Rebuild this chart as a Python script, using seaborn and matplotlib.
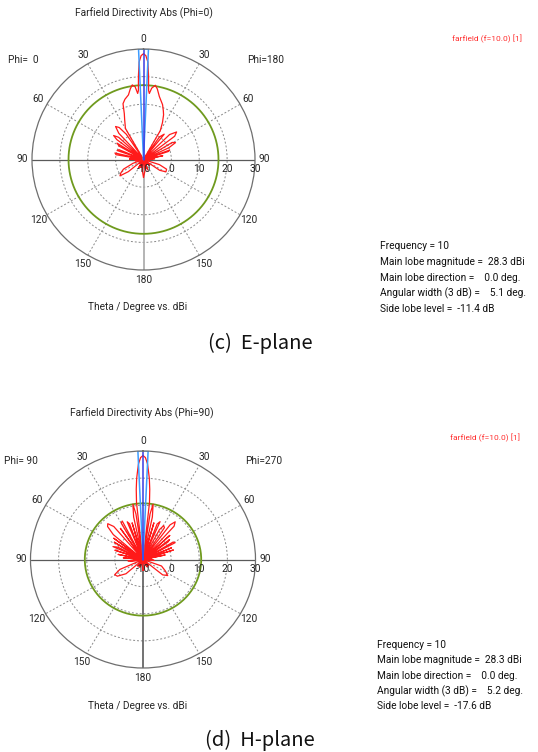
import numpy as np
import pandas as pd
import matplotlib
matplotlib.use("Agg")
import matplotlib.pyplot as plt
import seaborn as sns

# E-plane cut, theta in degrees (negative = Phi=0 side, positive = Phi=180 side)
e_theta = [-180, -174, -168, -162, -156, -150, -144, -138, -133, -129, -125, -121, -116, -110,
           -105, -98, -93, -88, -84, -80, -77, -74, -71, -68, -65, -61, -58, -55, -53, -51, -48,
           -46, -43, -40, -37, -34, -32, -30, -28, -25, -22.5, -20, -17, -13, -10.5, -8.5, -6.5,
           -5, -4.2, -3.4, -2.55, -1.3, 0, 1.3, 2.55, 3.4, 4.2, 5, 6.5, 9, 11, 14, 19, 22, 24,
           27, 30, 32, 35, 39, 42, 46, 50, 53, 56, 59, 62, 65, 67, 70, 72, 75, 79, 82, 86, 90,
           100, 104, 108, 113, 119, 124, 128, 134, 140, 146, 152, 158, 166, 172, 180]
e_gain = [-3.5, -6, -10, -7, -10, -6.5, -10, -8, -10, -3, 0.3, -0.5, -2, -6,
          -10, -7, -10, -5, -10, 0, 0.5, -10, 0, -0.5, -10, 0, 1.2, -10, 2, 3.8, 2,
          -10, 3, 5.6, 4.5, 1, -10, 3, 4, 6, 8, 11.5, 12.8, 14, 16, 17.3, 16.5,
          14, 15, 20.5, 25.3, 27.6, 28.3, 27.6, 25.3, 20.5, 15, 14, 16, 17.2, 16, 13.5, 11, 9, 7.7,
          5, 2, -10, 0, 1.8, -10, 3, 5.5, 4, -10, 2, 3, 0, -10, 0, -0.7, -10, -3, -10, -6, -10,
          -8, -10, -4, -1, -0.8, -3, -10, -7, -10, -8, -10, -6, -10, -6, -3.5]

# H-plane cut (negative = Phi=90 side, positive = Phi=270 side)
h_theta = [-180, -172, -165, -158, -150, -143, -137, -131, -124, -119, -114, -108, -100, -95,
           -91, -85, -82, -78, -75, -71, -68, -66, -63, -61, -58, -55, -53, -51, -49, -46,
           -43.5, -40.5, -38, -35, -33, -30, -27.5, -25, -22, -20, -18.5, -16, -14, -12, -10,
           -8.5, -7.5, -6.3, -5.3, -4.3, -3.3, -2.6, -1.3, 0, 1.3, 2.6, 3.3, 4.3, 5.3, 6.3, 7.5,
           8.5, 10, 12, 14, 16, 18.5, 21, 23.5, 26, 28, 30.5, 33, 35, 37, 39.5, 42, 44, 47, 49,
           52, 54, 56, 59, 61.5, 64, 67, 69, 72, 74, 78, 81, 88, 95, 100, 110, 118, 124, 129,
           133, 140, 146, 152, 160, 168, 175, 180]
h_gain = [-6, -8, -10, -7, -10, -7, -10, -2, 1, 1.5, -1, -10, -6, -4.6,
          -10, -3, -10, -1, -10, 0.5, -10, 1.7, 0, -10, 2, -10, 3, -10, 4, 7.5,
          8.2, 6, -10, 4, -10, 5.5, 6, -10, 5, 4, -10, 4, -10, 6, 10.7,
          7, -10, 11, 16, 20, 23, 25.3, 27.6, 28.3, 27.6, 25.3, 23, 20, 16, 11, -10,
          7, 10.7, 6, -10, 4, -10, 4, 5.2, -10, 2.5, 4.5, 4, -10, 6, 8, 6.5, -10, 3, -10,
          2, 1, -10, 2.5, 3, -10, 1, -10, 1.3, -10, -2, -10, -7, -6, -10, -3, -1, 0.6, -1,
          -10, -7, -10, -7, -10, -8, -6, -6]

freq = 10
main_mag = 28.3
main_dir = 0.0
e_width, h_width = 5.1, 5.2
e_sll, h_sll = -11.4, -17.6

r_ticks = [-10, 0, 10, 20, 30]
theta_ticks = [0, 30, 60, 90, 120, 150, 180, 210, 240, 270, 300, 330]
theta_labels = ['0', '30', '60', '90', '120', '150', '180', '150', '120', '90', '60', '30']

sns.set_theme(style='white')
plt.rcParams['font.family'] = ['Roboto', 'DejaVu Sans']

W, H = 538, 752
fig = plt.figure(figsize=(W / 100, H / 100), dpi=100)


def px(x, y):
    return x / W, 1 - y / H


def draw_cut(box, theta, gain, width, sll, vcolor):
    l, t, r, b = box
    ax = fig.add_axes([l / W, 1 - b / H, (r - l) / W, (b - t) / H], projection='polar')
    ax.set_aspect('auto')
    ax.set_theta_zero_location('N')
    ax.set_theta_direction(-1)
    ax.set_facecolor('white')
    ax.set_ylim(-10, 30)
    ax.set_yticks([0, 10, 20])
    ax.set_yticklabels([])
    ax.yaxis.grid(True, linestyle=(0, (2, 2)), color='#8a8a8a', lw=0.7)
    ax.xaxis.grid(False)
    ax.set_xticks(np.deg2rad(theta_ticks))
    ax.set_xticklabels(theta_labels, fontsize=7.3)
    ax.tick_params(axis='x', length=0, pad=0)
    ax.spines['polar'].set_color('#6e6e6e')
    ax.spines['polar'].set_linewidth(0.9)

    for a in theta_ticks:
        if a in (0, 180):
            continue
        if a in (90, 270):
            ax.plot([np.deg2rad(a)] * 2, [-10, 30], color='#5a5a5a', lw=0.9)
        else:
            ax.plot([np.deg2rad(a)] * 2, [-10, 30], color='#8a8a8a', lw=0.7,
                    linestyle=(0, (2, 2)))
    ax.plot([np.pi, np.pi], [-10, 30], color=vcolor, lw=1.2)

    for v in r_ticks:
        ax.annotate(str(v), xy=(np.pi / 2, v), xytext=(0, -6.5), textcoords='offset points',
                    ha='center', va='center', fontsize=7.3, color='#222222',
                    annotation_clip=False)

    ring = np.linspace(0, 2 * np.pi, 361)
    ax.plot(ring, np.full_like(ring, main_mag + sll), color='#6f9a1e', lw=1.3)

    df = pd.DataFrame({'theta': np.deg2rad(theta), 'gain': gain})
    sns.lineplot(data=df, x='theta', y='gain', sort=False, estimator=None,
                 color='#ff1a1a', lw=0.9, ax=ax)
    ax.set_xlabel('')
    ax.set_ylabel('')

    half = np.deg2rad(width / 2)
    lb = '#3d9cff'
    ax.plot([-half, -half], [-10, 30], color=lb, lw=1.1)
    ax.plot([half, half], [-10, 30], color=lb, lw=1.1)
    arc = np.linspace(-half, half, 10)
    ax.plot(arc, np.full_like(arc, 30), color=lb, lw=1.1)
    ax.plot([np.deg2rad(main_dir)] * 2, [-10, 30], color='#3a3ae0', lw=1.1)
    return ax


def info(x, y0, dy, width, sll):
    lines = [f'Frequency = {freq}',
             f'Main lobe magnitude =  {main_mag:.1f} dBi',
             f'Main lobe direction =    {main_dir:.1f} deg.',
             f'Angular width (3 dB) =    {width:.1f} deg.',
             f'Side lobe level =  {sll:.1f} dB']
    for i, s in enumerate(lines):
        fig.text(*px(x, y0 + i * dy), s, fontsize=7.3, ha='left', va='center', color='#111111')


# (c) E-plane
draw_cut((32, 49, 255, 270), e_theta, e_gain, e_width, e_sll, '#a8a8a8')
fig.text(*px(143.5, 13), 'Farfield Directivity Abs (Phi=0)', fontsize=7.4, ha='center', va='center')
fig.text(*px(8, 60), 'Phi=  0', fontsize=7.3, ha='left', va='center')
fig.text(*px(284, 60), 'Phi=180', fontsize=7.3, ha='right', va='center')
fig.text(*px(522, 39), 'farfield (f=10.0) [1]', fontsize=6, ha='right', va='center', color='#ff3030')
info(380, 246, 15.8, e_width, e_sll)
fig.text(*px(138, 307), 'Theta / Degree vs. dBi', fontsize=7.3, ha='center', va='center')
fig.text(*px(260, 343), '(c)  E-plane', fontsize=14.5, ha='center', va='center',
         family=['Noto Sans CJK KR', 'DejaVu Sans'], color='#111111')

# (d) H-plane
draw_cut((30.5, 451, 255.5, 668), h_theta, h_gain, h_width, h_sll, '#5a5a5a')
fig.text(*px(141.5, 413), 'Farfield Directivity Abs (Phi=90)', fontsize=7.4, ha='center', va='center')
fig.text(*px(4, 461), 'Phi= 90', fontsize=7.3, ha='left', va='center')
fig.text(*px(282, 461), 'Phi=270', fontsize=7.3, ha='right', va='center')
fig.text(*px(520, 438), 'farfield (f=10.0) [1]', fontsize=6, ha='right', va='center', color='#ff3030')
info(377, 645, 15.3, h_width, h_sll)
fig.text(*px(138, 706), 'Theta / Degree vs. dBi', fontsize=7.3, ha='center', va='center')
fig.text(*px(260, 740), '(d)  H-plane', fontsize=14.5, ha='center', va='center',
         family=['Noto Sans CJK KR', 'DejaVu Sans'], color='#111111')

fig.savefig('out.png', dpi=100, facecolor='white')
